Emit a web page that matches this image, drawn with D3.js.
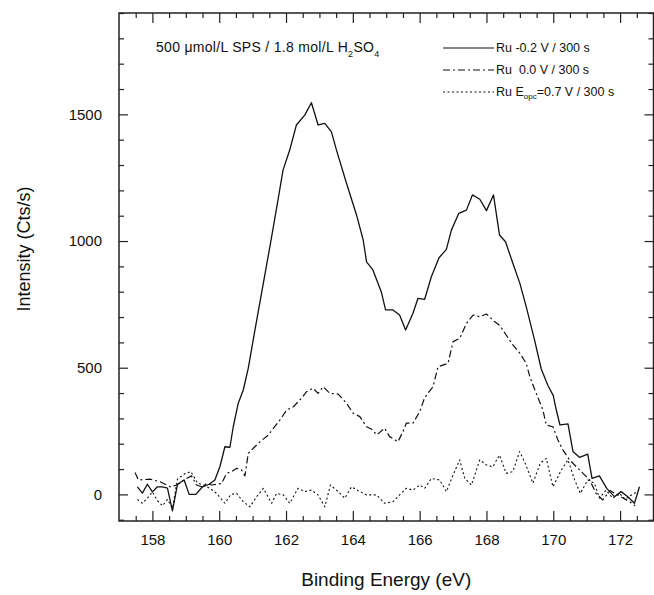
<!DOCTYPE html>
<html><head><meta charset="utf-8">
<script src="https://cdn.jsdelivr.net/npm/d3@7"></script>
<style>
html,body{margin:0;padding:0;background:#fff;}
svg{display:block;font-family:"Liberation Sans",Arial,Helvetica,sans-serif;}
</style></head>
<body>
<svg id="chart" width="654" height="595"></svg>
<script>
// ---- data ----
const xDomain = [157, 173];
const yDomain = [-105, 1900];
const xMajorTicks = [158, 160, 162, 164, 166, 168, 170, 172];
const yMajorTicks = [0, 500, 1000, 1500];

const solidX = [157.55,157.7,157.85,158.0,158.15,158.3,158.45,158.6,158.75,158.95,159.1,159.3,159.5,159.7,159.87,160.02,160.17,160.32,160.42,160.57,160.72,160.87,161.07,161.32,161.57,161.76,161.91,162.11,162.31,162.56,162.76,162.96,163.16,163.36,163.51,163.81,164.11,164.31,164.41,164.6,164.85,164.98,165.2,165.4,165.58,165.8,165.95,166.15,166.35,166.58,166.8,166.95,167.17,167.4,167.58,167.8,168.0,168.21,168.39,168.57,168.79,169.0,169.19,169.44,169.64,169.84,170.0,170.09,170.2,170.44,170.59,170.79,171.03,171.16,171.38,171.6,171.83,172.03,172.23,172.43,172.58];
const solidY = [30,5,40,10,30,30,25,-65,40,57,0,0,30,40,57,109,188,186,267,360,412,498,649,833,1017,1162,1280,1359,1458,1497,1546,1458,1464,1431,1359,1228,1103,1004,918,886,800,728,728,708,649,715,774,770,859,934,967,1043,1109,1122,1182,1165,1120,1182,1024,997,912,833,741,609,495,430,390,333,274,278,169,146,159,63,73,24,-9,11,-9,-35,30];

const dashX = [157.48,157.58,157.93,158.23,158.53,158.73,159.02,159.17,159.32,159.47,159.62,159.77,160.07,160.22,160.37,160.52,160.67,160.77,160.87,161.02,161.22,161.47,161.62,161.82,162.02,162.22,162.46,162.61,162.81,162.96,163.11,163.31,163.56,163.81,164.01,164.21,164.41,164.55,164.72,164.95,165.1,165.35,165.5,165.6,165.8,166.0,166.15,166.4,166.55,166.85,167.0,167.2,167.4,167.6,167.8,168.0,168.24,168.39,168.59,168.79,169.0,169.19,169.3,169.45,169.69,169.79,169.99,170.14,170.29,170.49,170.79,171.09,171.28,171.48,171.7,171.9,172.1,172.3,172.45];
const dashY = [86,57,60,50,30,37,63,73,37,30,43,37,43,83,90,103,96,73,162,182,208,234,261,294,333,346,379,405,419,399,425,399,396,360,320,307,267,258,235,261,228,208,247,281,281,326,382,425,504,517,603,616,675,708,701,712,682,668,629,590,557,517,464,412,333,274,267,215,175,136,96,57,4,-22,15,0,-15,-30,-45];

const dotX = [157.55,157.7,157.85,158.0,158.15,158.3,158.45,158.6,158.75,158.95,159.15,159.35,159.52,159.72,159.92,160.17,160.35,160.52,160.72,160.92,161.12,161.32,161.57,161.72,161.92,162.11,162.36,162.56,162.76,162.96,163.16,163.33,163.56,163.76,163.96,164.21,164.41,164.71,164.95,165.2,165.4,165.6,165.8,166.0,166.15,166.35,166.6,166.8,167.0,167.2,167.35,167.55,167.8,168.0,168.19,168.39,168.59,168.79,168.99,169.14,169.39,169.61,169.79,169.99,170.24,170.44,170.64,170.81,171.03,171.23,171.38,171.58,171.78,171.98,172.15,172.3,172.5];
const dotY = [-20,-35,-15,10,-25,-45,-20,-55,60,80,90,45,37,24,4,-35,0,4,-29,-49,-9,24,-35,4,-2,-35,24,11,17,-2,-49,37,11,-15,30,11,-2,-2,-35,-29,-2,24,17,37,24,63,57,11,77,136,63,37,136,116,109,155,83,90,169,129,44,123,142,30,96,136,57,4,57,44,-15,17,-15,5,-20,-5,10];

const seriesNames = ["Ru -0.2 V / 300 s", "Ru  0.0 V / 300 s", "=0.7 V / 300 s"];

// ---- layout ----
const svg = d3.select("#chart");
const L = 119, R = 653.5, T = 13, B = 521;
const xs = d3.scaleLinear().domain(xDomain).range([L, R]);
const ys = d3.scaleLinear().domain(yDomain).range([B, T]);

svg.append("rect").attr("width",654).attr("height",595).attr("fill","#fff");

svg.append("clipPath").attr("id","clip").append("rect")
  .attr("x",L).attr("y",T).attr("width",R-L).attr("height",B-T);

const xMinor = d3.range(157.5, 173, 0.5).filter(v => !xMajorTicks.includes(v));
const yMinor = d3.range(-100, 1901, 100).filter(v => !yMajorTicks.includes(v));

function addAxis(axis, tx, ty) {
  svg.append("g").attr("transform",`translate(${tx},${ty})`).call(axis);
}
addAxis(d3.axisBottom(xs).tickValues(xMajorTicks).tickSize(-10).tickPadding(13).tickFormat(d3.format("d")), 0, B);
addAxis(d3.axisBottom(xs).tickValues(xMinor).tickSize(-5).tickFormat(""), 0, B);
addAxis(d3.axisTop(xs).tickValues(xMajorTicks).tickSize(-10).tickFormat(""), 0, T);
addAxis(d3.axisTop(xs).tickValues(xMinor).tickSize(-5).tickFormat(""), 0, T);
addAxis(d3.axisLeft(ys).tickValues(yMajorTicks).tickSize(-9).tickPadding(17).tickFormat(d3.format("d")), L, 0);
addAxis(d3.axisLeft(ys).tickValues(yMinor).tickSize(-5).tickFormat(""), L, 0);
addAxis(d3.axisRight(ys).tickValues(yMajorTicks).tickSize(-9).tickFormat(""), R, 0);
addAxis(d3.axisRight(ys).tickValues(yMinor).tickSize(-5).tickFormat(""), R, 0);

svg.selectAll(".domain").remove();
svg.selectAll(".tick line").attr("stroke","#222").attr("stroke-width",1.2);
svg.selectAll(".tick text").attr("fill","#111").style("font-size","15px")
  .style("font-family",'"Liberation Sans",Arial,sans-serif');

svg.append("rect").attr("x",L).attr("y",T).attr("width",R-L).attr("height",B-T)
  .attr("fill","none").attr("stroke","#222").attr("stroke-width",1.5);

// lines
const line = d3.line().x(d => xs(d[0])).y(d => ys(d[1]));
const g = svg.append("g").attr("clip-path","url(#clip)");
const styles = [
  {xv: solidX, yv: solidY, dash: null, w: 1.3},
  {xv: dashX, yv: dashY, dash: "7,3,2,3", w: 1.2},
  {xv: dotX, yv: dotY, dash: "2,2.5", w: 1.1}
];
styles.forEach(s => {
  g.append("path").datum(s.xv.map((v,i)=>[v, s.yv[i]]))
    .attr("d", line).attr("fill","none").attr("stroke","#111")
    .attr("stroke-width", s.w).attr("stroke-dasharray", s.dash)
    .attr("stroke-linejoin","round");
});

// axis titles
svg.append("text").attr("x",(L+R)/2).attr("y",586).attr("text-anchor","middle")
  .style("font-size","19px").attr("fill","#111").text("Binding Energy (eV)");
svg.append("text").attr("transform","translate(30,249) rotate(-90)").attr("text-anchor","middle")
  .style("font-size","18px").attr("fill","#111").text("Intensity (Cts/s)");

// annotation
const ann = svg.append("text").attr("x",156).attr("y",52).style("font-size","14px")
  .style("letter-spacing","0.3px").attr("fill","#111");
ann.append("tspan").text("500 μmol/L SPS / 1.8 mol/L H");
ann.append("tspan").attr("dy",5).style("font-size","9px").text("2");
ann.append("tspan").attr("dy",-5).text("SO");
ann.append("tspan").attr("dy",5).style("font-size","9px").text("4");

// legend
const legY = [48, 70, 92];
const legDash = [null, "7,3,2,3", "2,2.5"];
legY.forEach((ly,i) => {
  svg.append("line").attr("x1",443).attr("x2",494).attr("y1",ly).attr("y2",ly)
    .attr("stroke","#111").attr("stroke-width",1.1).attr("stroke-dasharray",legDash[i]);
});
svg.append("text").attr("x",496).attr("y",legY[0]+4).style("font-size","12.5px").style("white-space","pre").attr("fill","#111").text(seriesNames[0]);
svg.append("text").attr("x",496).attr("y",legY[1]+4).style("font-size","12.5px").style("white-space","pre").attr("fill","#111").text(seriesNames[1]);
const t3 = svg.append("text").attr("x",496).attr("y",legY[2]+4).style("font-size","12.5px").style("white-space","pre").attr("fill","#111");
t3.append("tspan").text("Ru E");
t3.append("tspan").attr("dy",3).style("font-size","8px").text("opc");
t3.append("tspan").attr("dy",-3).text(seriesNames[2]);
</script>
</body></html>
